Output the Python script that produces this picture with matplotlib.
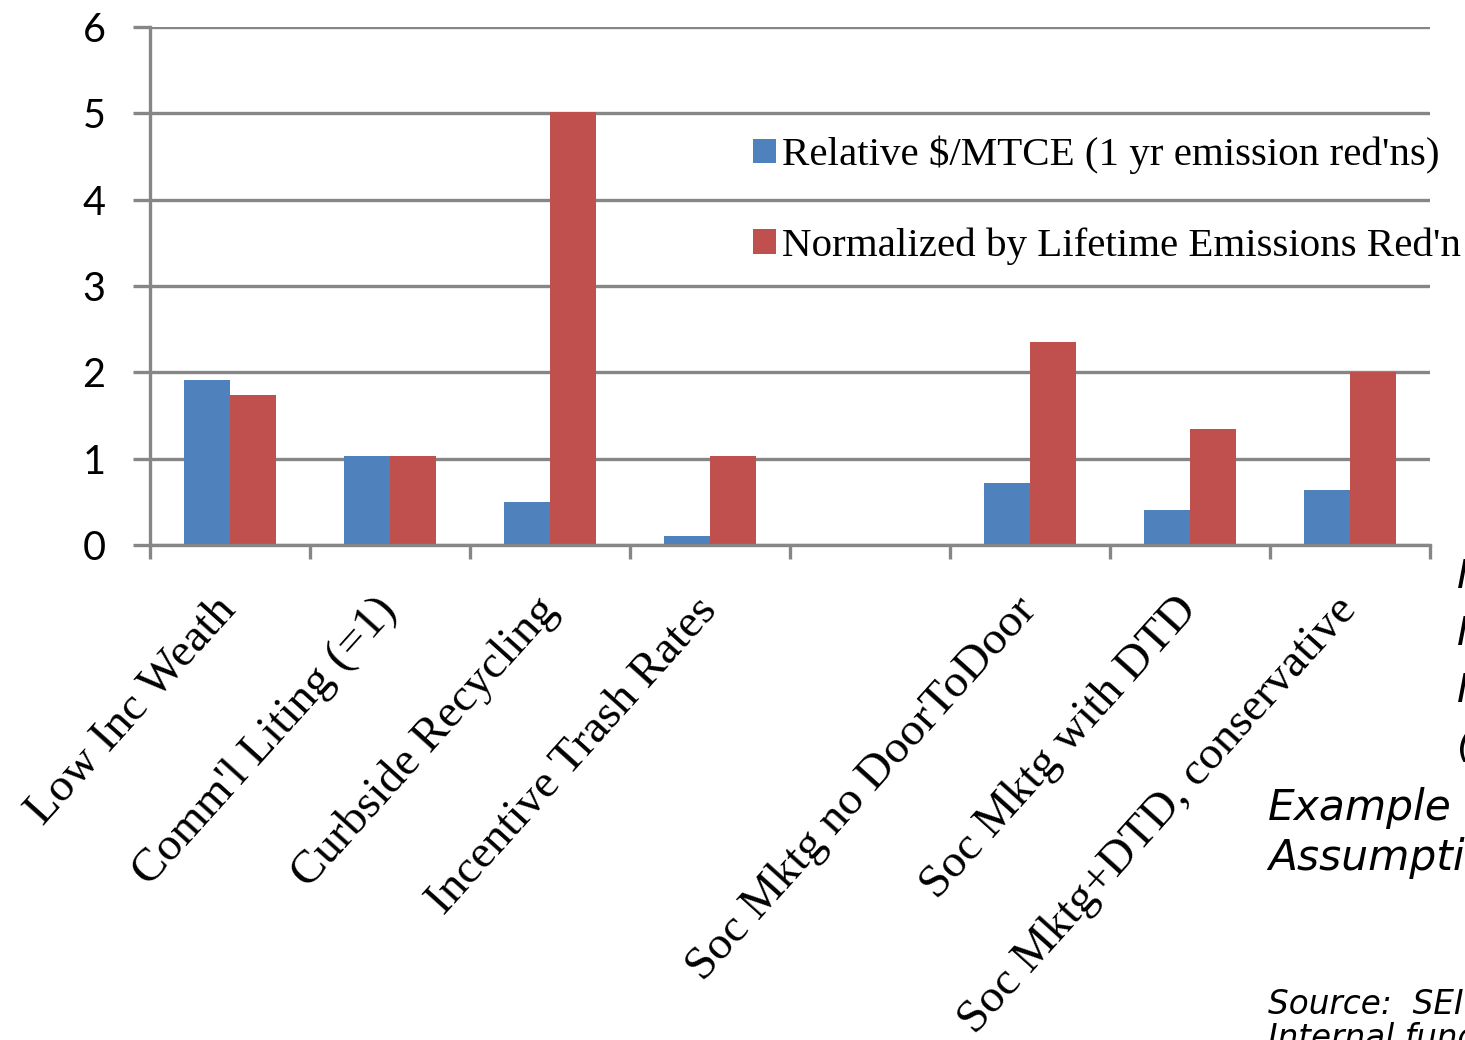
import matplotlib.pyplot as plt
import numpy as np

# Data
categories = ["Low Inc Weath", "Comm'l Liting (=1)", "Curbside Recycling",
              "Incentive Trash Rates", "", "Soc Mktg no DoorToDoor",
              "Soc Mktg with DTD", "Soc Mktg+DTD, conservative"]
relative_cost = [1.91, 1.03, 0.50, 0.10, 0.0, 0.72, 0.41, 0.64]
lifetime_norm = [1.74, 1.03, 5.02, 1.03, 0.0, 2.35, 1.34, 2.00]
series_names = ["Relative $/MTCE (1 yr emission red'ns)",
                "Normalized by Lifetime Emissions Red'n"]

blue = '#4F81BD'
red = '#C0504D'
grid_col = '#868686'

W, H = 1465, 1040
fig = plt.figure(figsize=(W / 100, H / 100), dpi=100)
ax = fig.add_axes([150 / W, 1 - 545 / H, (1430 - 150) / W, (545 - 27) / H])

x = np.arange(len(categories))
bw = 0.29
b1 = ax.bar(x - bw / 2, relative_cost, bw, color=blue, zorder=3, label=series_names[0])
b2 = ax.bar(x + bw / 2, lifetime_norm, bw, color=red, zorder=3, label=series_names[1])

ax.set_xlim(-0.5, len(categories) - 0.5)
ax.set_ylim(0, 6)

# gridlines / axes styling
ax.set_yticks(range(7))
ax.yaxis.grid(True, color=grid_col, linewidth=2.4, zorder=0)
for s in ['top', 'right']:
    ax.spines[s].set_visible(False)
ax.spines['left'].set_color(grid_col)
ax.spines['left'].set_linewidth(2.4)
ax.spines['bottom'].set_color(grid_col)
ax.spines['bottom'].set_linewidth(2.4)
ax.spines['bottom'].set_zorder(4)
ax.tick_params(axis='y', length=12, width=2.4, color=grid_col, pad=20,
               labelsize=28.5)
for lbl in ax.get_yticklabels():
    lbl.set_fontfamily('Lato')

ax.set_xticks(np.arange(-0.5, len(categories)))
ax.set_xticklabels([])
ax.tick_params(axis='x', length=10, width=2.4, color=grid_col)

# rotated category labels
for i, cat in enumerate(categories):
    if cat:
        ax.text(i - 0.1, -0.085, cat, transform=ax.get_xaxis_transform(),
                rotation=48, rotation_mode='anchor', ha='right', va='top',
                fontsize=34, family='Liberation Serif')

leg = fig.legend(handles=[b1, b2], loc='upper left',
                 bbox_to_anchor=(753 / W, 1 - 136 / H), frameon=False,
                 prop={'family': 'Liberation Serif', 'size': 29.5},
                 handlelength=0.55, handleheight=0.55, handletextpad=0.15,
                 labelspacing=1.3, borderpad=0, borderaxespad=0)

# side notes (clipped at the figure edge)
fig.text(1268 / W, 1 - 820 / H, "Example", fontsize=30.5, style='italic',
         family='DejaVu Sans')
fig.text(1268 / W, 1 - 870 / H, "Assumptions", fontsize=30.5, style='italic',
         family='DejaVu Sans')
fig.text(1268 / W, 1 - 1014 / H, "Source:  SEI", fontsize=23.5, style='italic',
         family='DejaVu Sans')
fig.text(1268 / W, 1 - 1048 / H, "Internal funds", fontsize=23.5, style='italic',
         family='DejaVu Sans')
for yy, t in zip([588, 645, 702, 757], ["I", "I", "I", "("]):
    fig.text(1457 / W, 1 - yy / H, t, fontsize=28, style='italic',
             family='DejaVu Sans')

fig.savefig('out.png', dpi=100)
